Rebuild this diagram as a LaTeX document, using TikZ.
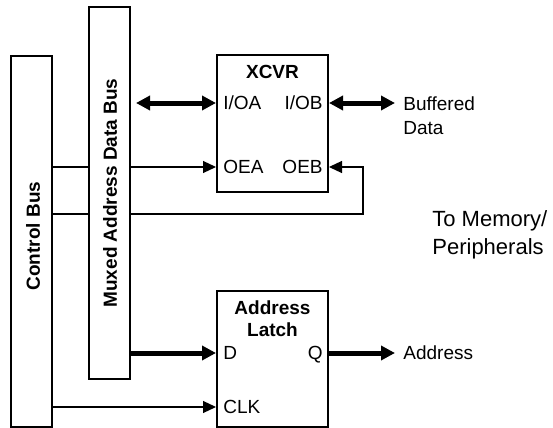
\documentclass[tikz,border=0pt]{standalone}
\usepackage{fontspec}
\setmainfont{Liberation Sans}
\usetikzlibrary{positioning, arrows.meta, calc}

\begin{document}
\begin{tikzpicture}[x=0.5pt, y=-0.5pt, font=\fontsize{9.5}{12}\selectfont,
    block/.style={draw, line width=1pt, inner sep=0pt},
    pin/.style={inner sep=0pt, text height=6.8pt, text depth=0pt},
    title/.style={font=\fontsize{9.5}{11}\selectfont\bfseries, align=center, inner sep=0pt},
    wire/.style={line width=0.6pt},
    sig/.style={wire, -{Triangle[length=6.5pt, width=6pt]}},
    bus/.style={line width=2.5pt, -{Triangle[length=7pt, width=7pt]}},
    bibus/.style={line width=2.5pt, {Triangle[length=7pt, width=7pt]}-{Triangle[length=7pt, width=7pt]}}]

        \useasboundingbox (0,0) rectangle (553,428);

        \node[block, minimum width=20.5pt, minimum height=185.5pt] (ctrl)  at (31.5,241.5) {};
        \node[block, minimum width=20.5pt, minimum height=186pt]   (mux)   at (109.5,193)  {};
        \node[block, minimum width=55.5pt, minimum height=68.5pt]  (xcvr)  at (272.5,123.5) {};
        \node[block, minimum width=55.5pt, minimum height=68pt]    (latch) at (272.5,359)  {};

        \node[title, rotate=90] (ctrlname) at (33,236)  {Control Bus};
        \node[title, rotate=90] (muxname)  at (110,193) {Muxed Address Data Bus};
        \node[title, anchor=north] (xcvrname)  at (272.5,65)  {XCVR};
        \node[title, anchor=north] (latchname) at (272.5,300) {Address\\Latch};

        \node[pin, anchor=west] (ioa) at (223,103) {I/OA};
        \node[pin, anchor=east] (iob) at (323,103) {I/OB};
        \node[pin, anchor=west] (oea) at (223,167) {OEA};
        \node[pin, anchor=east] (oeb) at (323,167) {OEB};
        \node[pin, anchor=west] (d)   at (223,353) {D};
        \node[pin, anchor=east] (q)   at (323,353) {Q};
        \node[pin, anchor=west] (clk) at (223,407) {CLK};

        \coordinate (ioaend)  at (136,103);
        \coordinate (iobend)  at (395,103);
        \coordinate (qend)    at (395,353);
        \coordinate (oebturn) at (363,214);

        \node[pin, anchor=west] (addr) at (403,353) {Address};
        \node[inner sep=0pt, anchor=north west, align=left] (buffered) at (403,96.5) {Buffered\\Data};
        \node[inner sep=0pt, anchor=north west, align=left, font=\fontsize{11}{14}\selectfont]
          (memory) at (432,210) {To Memory/\\Peripherals};

        \draw[bibus] (ioaend) -- (xcvr.west |- ioa);
        \draw[bibus] (xcvr.east |- iob) -- (iobend);

        \draw[wire] (ctrl.east |- oea) -- (mux.west |- oea);
        \draw[sig]  (mux.east |- oea) -- (xcvr.west |- oea);

        \draw[wire] (ctrl.east |- oebturn) -- (mux.west |- oebturn);
        \draw[sig]  (mux.east |- oebturn) -- (oebturn) -- (oebturn |- oeb) -- (xcvr.east |- oeb);

        \draw[bus] (mux.east |- d) -- (latch.west |- d);
        \draw[bus] (latch.east |- q) -- (qend);
        \draw[sig] (ctrl.east |- clk) -- (latch.west |- clk);

      \end{tikzpicture}
\end{document}
